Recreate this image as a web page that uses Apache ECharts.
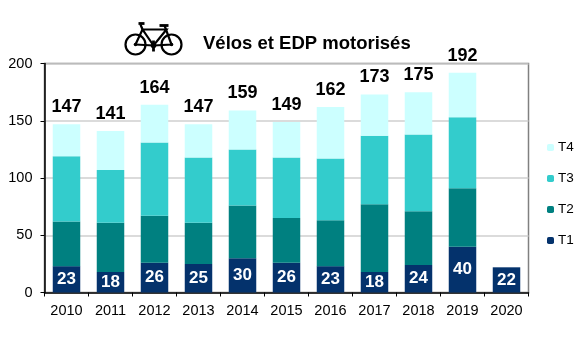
<!DOCTYPE html>
<html>

<head>
  <meta charset="utf-8">
  <style>
    html,
    body {
      width: 100%;
      height: 100%;
      margin: 0;
      padding: 0;
      overflow: hidden;
      background-color: #fff;
    }

    #container {
      width: 583px;
      height: 357px;
    }
  </style>
</head>

<body>
  <div id="container"></div>

  <script src="https://cdn.jsdelivr.net/npm/echarts@6/dist/echarts.min.js"></script>
  <script>
    var years = ['2010', '2011', '2012', '2013', '2014', '2015', '2016', '2017', '2018', '2019', '2020'];
    var t1 = [23, 18, 26, 25, 30, 26, 23, 18, 24, 40, 22];
    var t2 = [39, 43, 41, 36, 46, 39, 40, 59, 47, 51, null];
    var t3 = [57, 46, 64, 57, 49, 53, 54, 60, 67, 62, null];
    var t4 = [28, 34, 33, 29, 34, 31, 45, 36, 37, 39, null];
    var totals = [147, 141, 164, 147, 159, 149, 162, 173, 175, 192, null];
    var yTicks = [0, 50, 100, 150, 200];

    var FONT = '"Liberation Sans", Arial, sans-serif';

    function barSeries(name, values, color, label) {
      return {
        name: name,
        type: 'bar',
        stack: 'total',
        barWidth: 27.5,
        data: values,
        itemStyle: { color: color },
        label: label,
        z: 3
      };
    }

    // le vélo du titre
    function bike() {
      var line = { stroke: '#000', lineWidth: 2.2, fill: null };
      var thick = { stroke: '#000', lineWidth: 2.8, fill: null };
      return {
        type: 'group',
        left: 123,
        top: 21,
        children: [
          { type: 'circle', shape: { cx: 13, cy: 22, r: 10 }, style: line },
          { type: 'circle', shape: { cx: 49, cy: 22, r: 10 }, style: line },
          { type: 'circle', shape: { cx: 13, cy: 22, r: 1.8 }, style: { fill: '#000' } },
          { type: 'circle', shape: { cx: 49, cy: 22, r: 1.8 }, style: { fill: '#000' } },
          { type: 'circle', shape: { cx: 31, cy: 23, r: 2.8 }, style: { fill: '#000' } },
          { type: 'polyline', shape: { points: [[13, 22], [20, 7], [31, 23], [44, 7], [20, 7]] }, style: line },
          { type: 'polyline', shape: { points: [[13, 22], [31, 23], [49, 22], [42, 3]] }, style: line },
          { type: 'polyline', shape: { points: [[20, 7], [18, 2]] }, style: line },
          { type: 'polyline', shape: { points: [[16, 1], [22, 1]] }, style: thick },
          { type: 'polyline', shape: { points: [[37, 3], [46, 3]] }, style: thick },
          { type: 'polyline', shape: { points: [[31, 18], [31, 29]] }, style: thick }
        ]
      };
    }

    var chart = echarts.init(document.getElementById('container'), null, { renderer: 'canvas' });

    chart.setOption({
      animation: false,
      backgroundColor: '#fff',
      textStyle: { fontFamily: FONT },
      title: {
        text: 'Vélos et EDP motorisés',
        left: 198,
        top: 29,
        textStyle: { fontFamily: FONT, fontSize: 18.5, fontWeight: 'bold', color: '#000' }
      },
      legend: {
        orient: 'vertical',
        left: 547,
        top: 140.5,
        padding: 0,
        itemWidth: 7,
        itemHeight: 7,
        itemGap: 17,
        data: ['T4', 'T3', 'T2', 'T1'],
        textStyle: { fontFamily: FONT, fontSize: 13.5, color: '#000', padding: [0, 0, 0, -1] }
      },
      grid: {
        left: 44.5,
        top: 63.5,
        width: 484,
        height: 229,
        show: true,
        backgroundColor: 'transparent',
        borderColor: '#808080',
        borderWidth: 1.5
      },
      xAxis: {
        type: 'category',
        data: years,
        axisLine: { lineStyle: { color: '#000', width: 1.5 } },
        axisTick: { show: true, alignWithLabel: false, length: 4, lineStyle: { color: '#000', width: 1 } },
        axisLabel: { fontFamily: FONT, fontSize: 14.5, color: '#000', margin: 11, interval: 0 }
      },
      yAxis: {
        type: 'value',
        min: yTicks[0],
        max: yTicks[yTicks.length - 1],
        interval: yTicks[1] - yTicks[0],
        axisLine: { show: true, lineStyle: { color: '#000', width: 1.5 } },
        axisTick: { show: true, length: 4, lineStyle: { color: '#000', width: 1 } },
        axisLabel: { fontFamily: FONT, fontSize: 14.5, color: '#000', margin: 12 },
        splitLine: { show: true, lineStyle: { color: '#cfcfcf', width: 1.5 } }
      },
      series: [
        barSeries('T1', t1, '#04326c', {
          show: true,
          position: 'inside',
          fontFamily: FONT,
          fontSize: 17,
          fontWeight: 'bold',
          color: '#fff'
        }),
        barSeries('T2', t2, '#008080'),
        barSeries('T3', t3, '#33cccc'),
        barSeries('T4', t4, '#ccffff', {
          show: true,
          position: 'top',
          distance: 8,
          fontFamily: FONT,
          fontSize: 18,
          fontWeight: 'bold',
          color: '#000',
          formatter: function (p) {
            return totals[p.dataIndex];
          }
        })
      ],
      graphic: [bike()]
    });
  </script>
</body>

</html>
